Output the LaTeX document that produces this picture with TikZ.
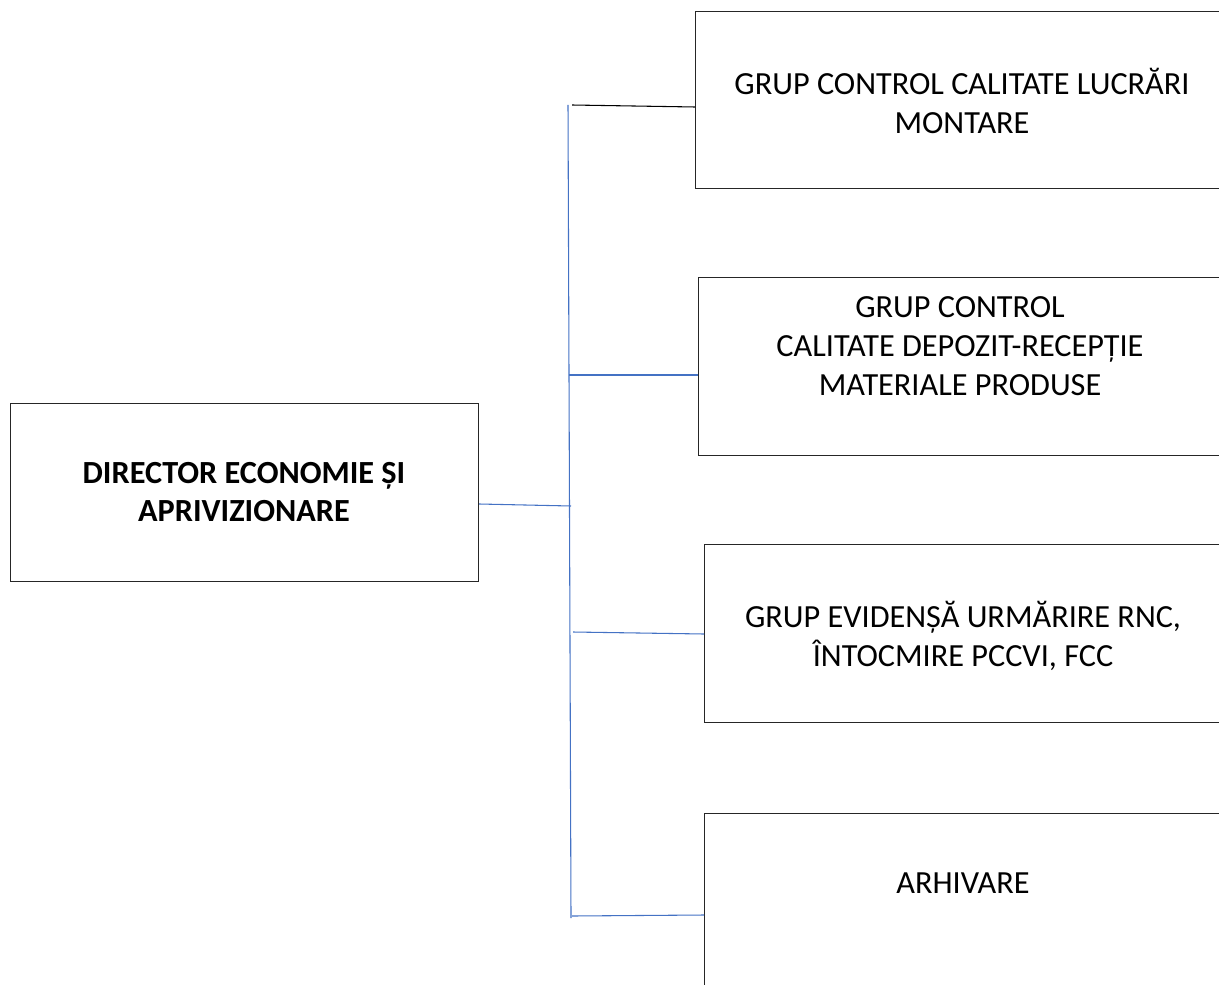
\documentclass[tikz,border=0pt]{standalone}
\usepackage{fontspec}
\setmainfont{Carlito}
\definecolor{linkblue}{HTML}{4472C4}
\begin{document}
\begin{tikzpicture}[x=0.75pt,y=-0.75pt,
  box/.style={draw=black!85,line width=0.9pt,rectangle,anchor=north west,inner sep=0pt},
  lbl/.style={align=center,font=\fontsize{24.2}{29}\selectfont,inner sep=0pt},
  blueline/.style={draw=linkblue,line width=0.8pt},
  blackline/.style={draw=black,line width=0.8pt}]
\useasboundingbox (0,0) rectangle (1219,984);
\clip (0,0) rectangle (1219,984);
% boxes
\node[box,minimum width=351pt,minimum height=133.5pt] (d) at (10,403) {};
\node[box,minimum width=405pt,minimum height=132.75pt] (b1) at (695,11) {};
\node[box,minimum width=400pt,minimum height=133.5pt] (b2) at (698,277) {};
\node[box,minimum width=400pt,minimum height=133.5pt] (b3) at (704,544) {};
\node[box,minimum width=400pt,minimum height=160pt] (b4) at (704,813) {};
% labels
\node[lbl,font=\fontsize{24.2}{29}\selectfont\bfseries] (dl) at (244,492) {DIRECTOR ECONOMIE ȘI\\APRIVIZIONARE};
\node[lbl] (l1) at (962,101) {GRUP CONTROL CALITATE LUCRĂRI\\MONTARE};
\node[lbl] (l2) at (960,346) {GRUP CONTROL\\CALITATE DEPOZIT-RECEPȚIE\\MATERIALE PRODUSE};
\node[lbl] (l3) at (963,636) {GRUP EVIDENȘĂ URMĂRIRE RNC,\\ÎNTOCMIRE PCCVI, FCC};
\node[lbl] (l4) at (963,883) {ARHIVARE};
% spine
\coordinate (top) at (568,105);
\coordinate (bot) at (571,918);
\coordinate (j1) at (572,105);
\coordinate (j2) at (569,375);
\coordinate (j0) at (571,506);
\coordinate (j3) at (573,632);
\coordinate (j4) at (572,916);
\draw[blueline] (top) -- (bot);
\draw[blackline] (j1) -- ([yshift=-1.5pt]j1 -| b1.west);
\draw[blueline] (j2) -- (j2 -| b2.west);
\draw[blueline] ([yshift=1.5pt]j0 -| d.east) -- (j0);
\draw[blueline] (j3) -- ([yshift=-1.5pt]j3 -| b3.west);
\draw[blueline] (j4) -- ([yshift=0.75pt]j4 -| b4.west);
\end{tikzpicture}
\end{document}
